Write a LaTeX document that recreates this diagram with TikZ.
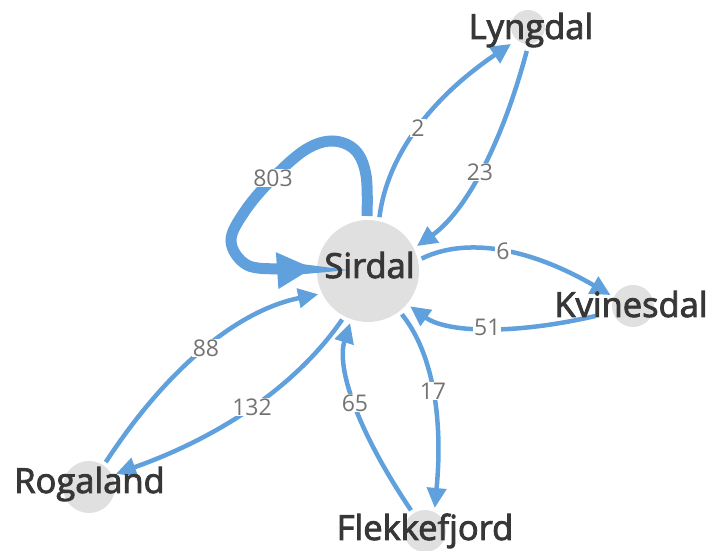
\documentclass[tikz,border=0pt]{standalone}
\usepackage{fontspec}
\setmainfont{Open Sans}
\newfontfamily\citysemi{Open Sans}
\newcommand\heavytext[1]{\special{pdf:literal direct 2 Tr 0.9 w}#1\special{pdf:literal direct 0 Tr}}
\usetikzlibrary{arrows.meta,calc}
\definecolor{edgeblue}{RGB}{96,160,220}
\definecolor{nodegray}{RGB}{224,224,224}
\definecolor{nametext}{RGB}{55,55,55}
\definecolor{numtext}{RGB}{115,115,115}
\begin{document}
\begin{tikzpicture}[x=1pt,y=1pt,
  city/.style={circle,fill=nodegray,draw=none,inner sep=0pt,outer sep=4pt},
  citylbl/.style={font=\citysemi\fontsize{34.5}{38}\selectfont,text=nametext,anchor=base,inner sep=0pt},
  flow/.style={draw=edgeblue,line width=4.5pt,-{Triangle[length=20pt,width=19pt]}},
  flowlbl/.style={font=\fontsize{23}{26}\selectfont,text=numtext,fill=white,inner sep=1pt},
  quad/.style={to path={.. controls ($(\tikztostart)!2/3!(#1)$) and ($(\tikztotarget)!2/3!(#1)$) .. (\tikztotarget) \tikztonodes}}]
\useasboundingbox (0,0) rectangle (713,551);
% vertices
\node[city,minimum size=102pt] (S) at (368,280) {};
\node[city,minimum size=34pt,outer sep=7pt] (L) at (528,524) {};
\node[city,minimum size=42pt] (K) at (633,245) {};
\node[city,minimum size=52pt] (R) at (89,64) {};
\node[city,minimum size=42pt] (F) at (425,20) {};
% control points
\coordinate (c1) at (390.8,425.6);
\coordinate (c2) at (488.1,355.5);
\coordinate (c3) at (490,325.8);
\coordinate (c4) at (465,205);
\coordinate (c5) at (447.6,180.1);
\coordinate (c6) at (329.4,161.6);
\coordinate (c7) at (200,233.1);
\coordinate (c8) at (274.9,133.7);
% self loop
\draw[flow,line width=11pt,-{Triangle[length=36pt,width=34pt]}]
  plot[smooth,tension=0.6] coordinates {(S.91) (366,376) (355,401) (332,410) (305,401) (273,373) (245,340) (231,310) (247,286) (282,282) (S.177)};
\node[flowlbl] (n803) at (273,373) {803};
% flows
\draw[flow] (S.78) to[quad=c1] node[flowlbl]{2} (L.225);
\draw[flow] (L.267) to[quad=c2] node[flowlbl]{23} (S.27);
\draw[flow] (S.13) to[quad=c3] node[flowlbl]{6} (K.154);
\draw[flow,shorten <=14pt] (K.196) to[quad=c4] node[flowlbl]{51} (S.-40);
\draw[flow] (S.-52) to[quad=c5] node[flowlbl]{17} (F.67);
\draw[flow] (F.124) to[quad=c6] node[flowlbl]{65} (S.-109);
\draw[flow] (R.56) to[quad=c7] node[flowlbl]{88} (S.-155);
\draw[flow] (S.-118) to[quad=c8] node[flowlbl]{132} (R.26);
% names
\node[citylbl] (St) at (369.5,273) {\heavytext{Sirdal}};
\node[citylbl] (Lt) at (531,512) {\heavytext{Lyngdal}};
\node[citylbl] (Kt) at (631,234) {\heavytext{Kvinesdal}};
\node[citylbl] (Rt) at (89.5,58) {\heavytext{Rogaland}};
\node[citylbl] (Ft) at (425,11) {\heavytext{Flekkefjord}};
\end{tikzpicture}
\end{document}
